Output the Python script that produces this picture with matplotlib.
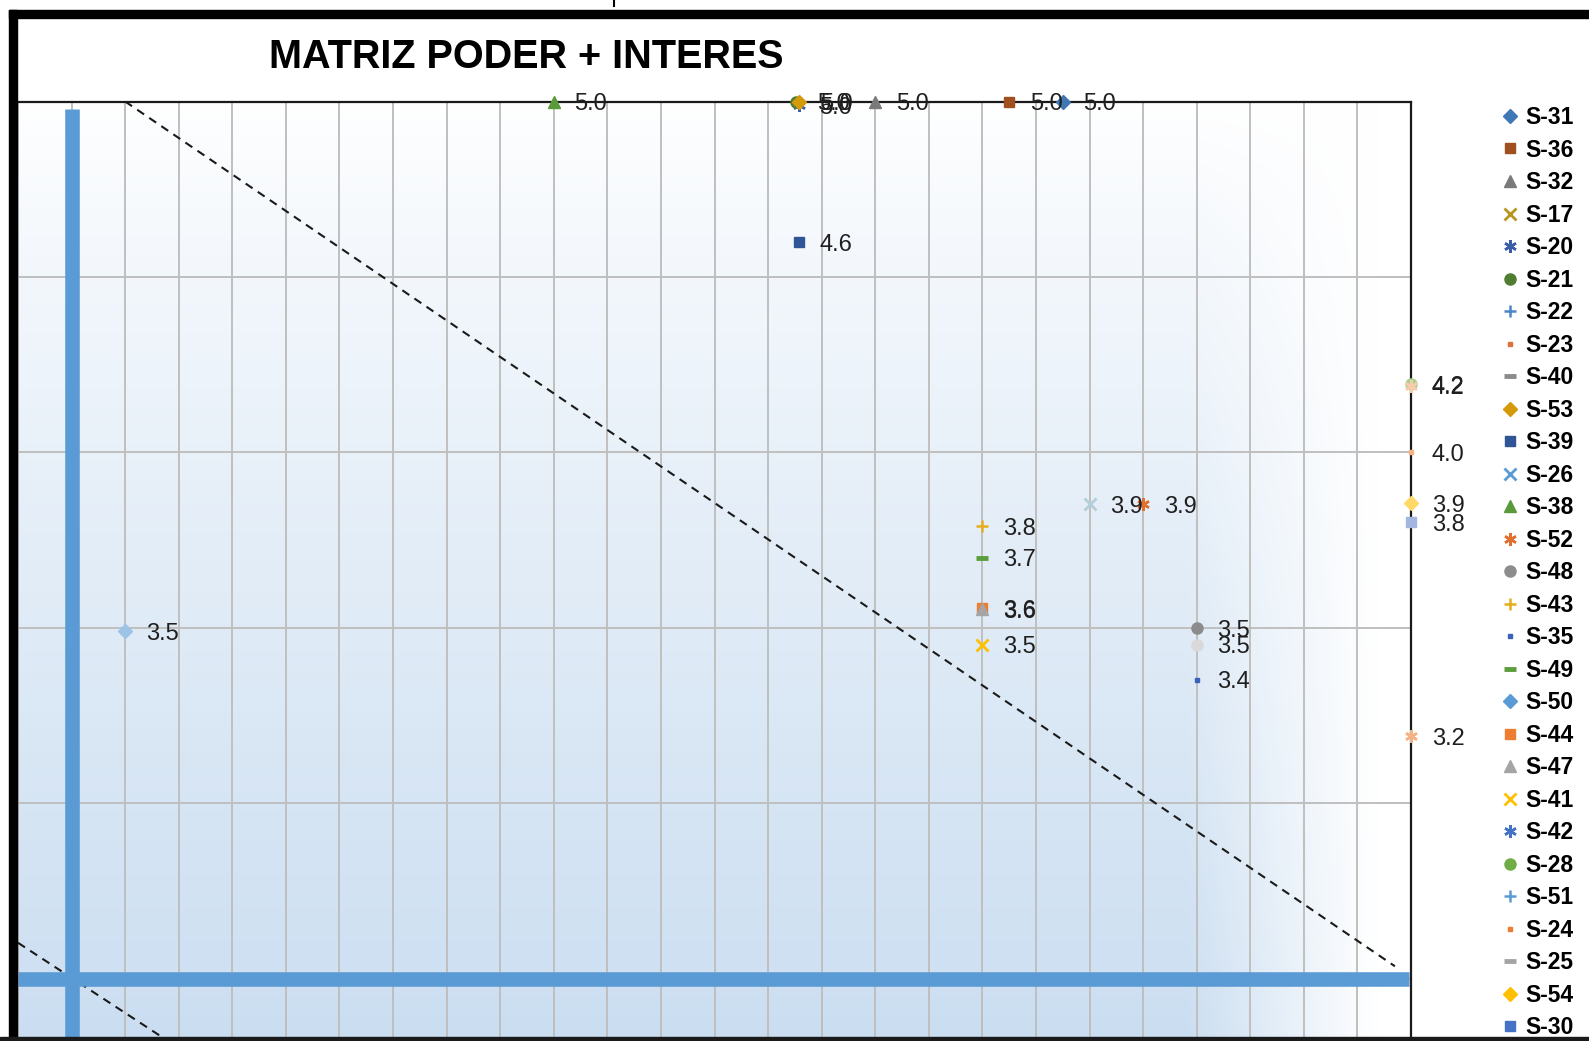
import numpy as np
import matplotlib
matplotlib.use("Agg")
import matplotlib.pyplot as plt
from matplotlib.patches import Rectangle
from matplotlib.lines import Line2D
from matplotlib.font_manager import FontProperties

# ---------------- data ----------------
title = "MATRIZ PODER + INTERES"

series_names = ["S-31", "S-36", "S-32", "S-17", "S-20", "S-21", "S-22", "S-23", "S-40",
                "S-53", "S-39", "S-26", "S-38", "S-52", "S-48", "S-43", "S-35", "S-49",
                "S-50", "S-44", "S-47", "S-41", "S-42", "S-28", "S-51", "S-24", "S-25",
                "S-54", "S-30", "S-45", "S-46", "S-18", "S-19", "S-27", "S-29", "S-33",
                "S-34", "S-37"]
# interest (x) and power (y) for each series
series_x = [[4.35], [4.25], [4.0], [], [3.857], [3.853], [], [], [],
            [3.858], [3.857], [], [3.4], [4.5], [4.6], [4.2], [4.6], [4.2],
            [], [4.2], [4.2], [4.2], [], [], [], [], [],
            [], [], [4.4], [5.0], [4.6], [5.0], [5.0], [5.0], [5.0],
            [5.0], [2.6]]
series_y = [[5.0], [5.0], [5.0], [], [4.99], [5.0], [], [], [],
            [5.0], [4.6], [], [5.0], [3.852], [3.5], [3.79], [3.352], [3.7],
            [], [3.556], [3.553], [3.452], [], [], [], [], [],
            [], [], [3.852], [3.19], [3.452], [4.195], [4.19], [4.0], [3.855],
            [3.8], [3.49]]

# reference lines
quad_x = 2.5
quad_y = 2.5
diag1_x = [2.6, 4.97]
diag1_y = [5.0, 2.535]
diag2_x = [2.4, 2.8]
diag2_y = [2.602, 2.202]
x_min, x_max = 2.4, 5.0
y_min, y_max = 2.322, 5.0

# ---------------- styles ----------------
mk = {"diamond": "D", "square": "s", "triangle": "^", "x": "x", "star": (6, 2, 0),
      "circle": "o", "plus": "+", "dot": "s", "dash": "_"}
series_marker = ["diamond", "square", "triangle", "x", "star", "circle", "plus", "dot", "dash",
                 "diamond", "square", "x", "triangle", "star", "circle", "plus", "dot", "dash",
                 "diamond", "square", "triangle", "x", "star", "circle", "plus", "dot", "dash",
                 "diamond", "square", "x", "star", "circle", "circle", "star", "dot", "diamond",
                 "square", "diamond"]
series_color = ["#3F78B5", "#A0501E", "#7A7A7A", "#B8961E", "#3B5DA8", "#4F7D32", "#4A86C8",
                "#E0703A", "#8A8A8A", "#D49A0A", "#2F5597", "#5B9BD5", "#5A9A3A", "#E07030",
                "#8C8C8C", "#E6AE1E", "#3A62BA", "#5C9E3C", "#5B9BD5", "#ED7D31", "#A5A5A5",
                "#FFC000", "#4472C4", "#70AD47", "#5B9BD5", "#ED7D31", "#A5A5A5", "#FFC000",
                "#4472C4", "#B3D0DA", "#F4B183", "#D9D9D9", "#A9D18E", "#F8CBAD", "#F4B183",
                "#FFD966", "#A4B6E0", "#9DC3E6"]
size_for = {"diamond": 7, "square": 7, "triangle": 8, "x": 8, "star": 9, "circle": 8,
            "plus": 9, "dot": 3.5, "dash": 9}
mew_for = {"diamond": 1, "square": 1, "triangle": 1, "x": 2, "star": 1.8, "circle": 1,
           "plus": 1.8, "dot": 1, "dash": 3.5}

W, H = 1589, 1041
fig = plt.figure(figsize=(W / 100, H / 100), dpi=100)
fig.patch.set_facecolor("white")

ax_left, ax_right, ax_top, ax_bottom = 18, 1411, 101.5, 1041
ax = fig.add_axes([ax_left / W, 1 - ax_bottom / H, (ax_right - ax_left) / W,
                   (ax_bottom - ax_top) / H])

# gradient background of plot area
nu, nv = 400, 300
u = np.linspace(0, 1, nu)
v = np.linspace(0, 1, nv)  # 0 = bottom, 1 = top
U, V = np.meshgrid(u, v)
vert = np.clip(1 - V, 0, 1) ** 0.85
horiz = np.clip((0.975 - U) / (0.975 - 0.84), 0, 1)
f = vert * horiz
blue = np.array([203, 222, 241]) / 255.0
img = 1 - f[..., None] * (1 - blue[None, None, :])
ax.imshow(img, extent=[0, 1, 0, 1], transform=ax.transAxes, origin="lower",
          aspect="auto", zorder=0, interpolation="bilinear")

ax.set_xlim(x_min, x_max)
ax.set_ylim(y_min, y_max)
ax.set_xticks(np.round(np.arange(x_min, x_max + 0.001, 0.1), 2))
ax.set_yticks([2.5, 3.0, 3.5, 4.0, 4.5, 5.0])
ax.set_axisbelow(True)
ax.grid(True, color="#BFBFBF", lw=1.4)
ax.tick_params(length=0, labelbottom=False, labelleft=False)
for s in ["left", "bottom"]:
    ax.spines[s].set_visible(False)
for s in ["top", "right"]:
    ax.spines[s].set_color("#1A1A1A")
    ax.spines[s].set_linewidth(1.6)
    ax.spines[s].set_zorder(3)

# dashed diagonals
ax.plot(diag1_x, diag1_y, color="#1A1A1A", lw=1.5, dashes=(4, 3), zorder=2)
ax.plot(diag2_x, diag2_y, color="#1A1A1A", lw=1.5, dashes=(4, 3), zorder=2)

# thick quadrant lines
ax.plot([x_min, x_max - 0.004], [quad_y, quad_y], color="#5B9BD5", lw=10.5,
        solid_capstyle="butt", zorder=2.5)
ax.plot([quad_x, quad_x], [y_min - 0.1, y_max - 0.022], color="#5B9BD5", lw=10.5,
        solid_capstyle="butt", zorder=2.5)

lab_font = FontProperties(family=["Liberation Sans", "DejaVu Sans"], size=17)
handles = []
for name, xs, ys, m, c in zip(series_names, series_x, series_y, series_marker, series_color):
    h, = ax.plot(xs, ys, linestyle="none", marker=mk[m], markersize=size_for[m],
                 color=c, markeredgecolor=c, markeredgewidth=mew_for[m],
                 clip_on=False, zorder=4, label=name)
    handles.append(h)
    for xv, yv in zip(xs, ys):
        ax.annotate(f"{yv:.1f}", (xv, yv), xytext=(15, -2), textcoords="offset points",
                    va="center", ha="left", fontproperties=lab_font, color="#1F1F1F",
                    annotation_clip=False, zorder=5)

leg_font = FontProperties(family=["Liberation Sans", "DejaVu Sans"], weight="bold", size=16.5)
fig.legend(handles=handles, labels=series_names, loc="upper left",
           bbox_to_anchor=(1501 / W, 1 - 106 / H), bbox_transform=fig.transFigure,
           frameon=False, prop=leg_font, handlelength=0.8, handletextpad=0.25,
           labelspacing=0.415, borderpad=0, borderaxespad=0, numpoints=1)

# title
fig.text(269 / W, 1 - 57 / H, title, ha="left", va="center",
         fontproperties=FontProperties(family=["Liberation Sans", "DejaVu Sans"],
                                       weight="bold", size=28.5), color="black")

# outer black frame (screenshot border)
fig.add_artist(Rectangle((9 / W, 0), 8 / W, 1 - 10 / H, transform=fig.transFigure,
                         color="black", zorder=20))
fig.add_artist(Rectangle((9 / W, 1 - 18 / H), 1 - 9 / W, 8 / H, transform=fig.transFigure,
                         color="black", zorder=20))
fig.add_artist(Rectangle((0, 0), 1, 4 / H, transform=fig.transFigure,
                         color="#1A1A1A", zorder=20))
fig.add_artist(Line2D([614 / W, 614 / W], [1, 1 - 6 / H], transform=fig.transFigure,
                      color="black", lw=1.5, zorder=20))

fig.savefig("out.png", dpi=100)
